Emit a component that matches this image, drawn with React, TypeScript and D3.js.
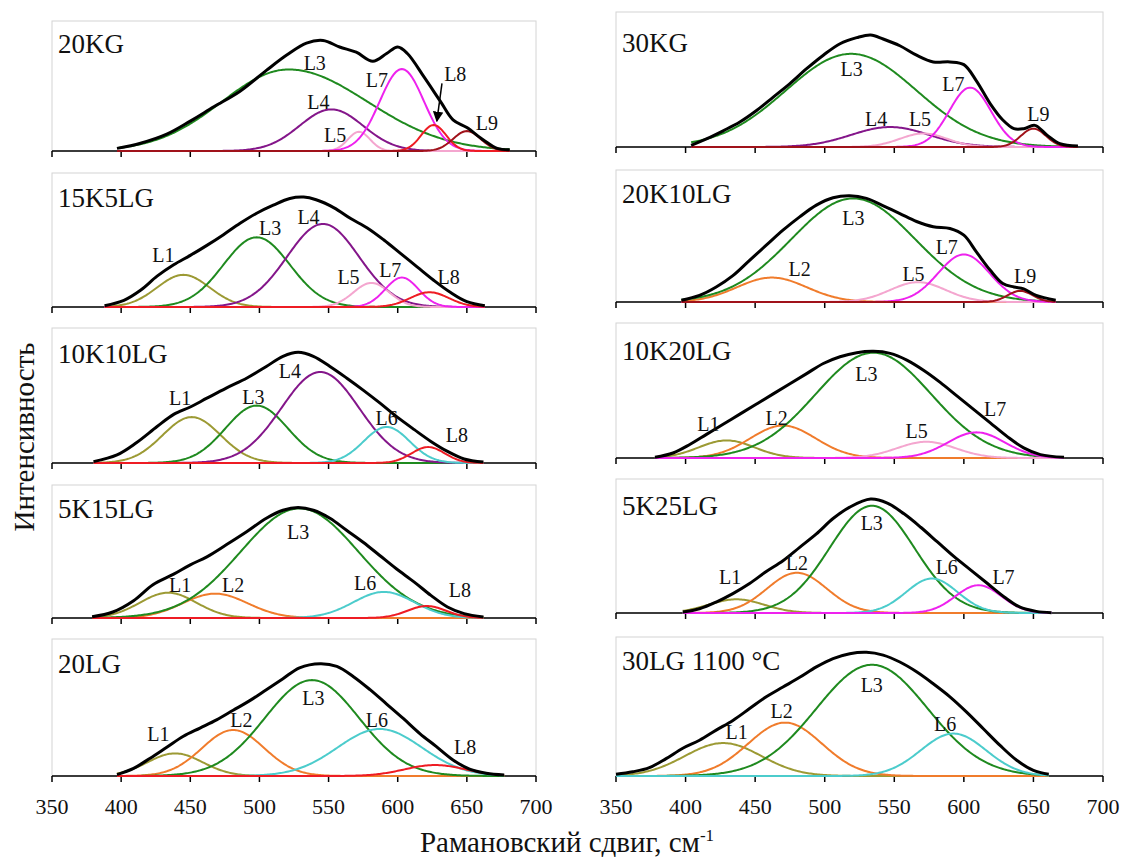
import React from "react";
import * as d3 from "d3";

// ---------- data ----------
const tickValues = [350, 400, 450, 500, 550, 600, 650, 700];
const xTitle = "Рамановский сдвиг, см";
const yTitle = "Интенсивность";

// panel names (left column then right column)
const panelNames = ["20KG", "15K5LG", "10K10LG", "5K15LG", "20LG", "30KG", "20K10LG", "10K20LG", "5K25LG", "30LG 1100 °C"];
// measured spectral range of each panel, cm-1
const spectralRanges = [[397, 681], [388, 663], [380, 662], [379, 662], [397, 677], [404, 682], [397, 666], [378, 672], [398, 663], [350, 661]];

// measured spectra (thick black line): [Raman shift, relative intensity]
const env20KG = [
  [397, 0.02], [414, 0.06], [433, 0.13], [450, 0.23], [467, 0.34], [486, 0.46], [505, 0.62], [520, 0.74],
  [534, 0.83], [546, 0.85], [558, 0.8], [570, 0.76], [582, 0.69], [592, 0.75], [600, 0.8], [607, 0.75],
  [619, 0.57], [631, 0.38], [640, 0.24], [650, 0.18], [662, 0.085], [672, 0.02], [681, 0.01],
];
const env15K5LG = [
  [388, 0.01], [402, 0.05], [414, 0.125], [426, 0.23], [438, 0.315], [450, 0.385], [462, 0.46], [474, 0.54],
  [486, 0.625], [498, 0.7], [510, 0.76], [522, 0.81], [532, 0.82], [541, 0.8], [554, 0.74], [566, 0.66],
  [578, 0.59], [590, 0.5], [602, 0.4], [614, 0.3], [626, 0.2], [638, 0.11], [650, 0.04], [663, 0.01],
];
const env10K10LG = [
  [380, 0.01], [397, 0.06], [411, 0.15], [426, 0.27], [438, 0.36], [450, 0.415], [462, 0.48], [476, 0.555],
  [491, 0.63], [505, 0.715], [517, 0.79], [528, 0.82], [539, 0.79], [551, 0.715], [563, 0.63], [575, 0.54],
  [587, 0.445], [599, 0.345], [612, 0.247], [624, 0.16], [636, 0.086], [648, 0.03], [662, 0.007],
];
const env5K15LG = [
  [379, 0.01], [394, 0.045], [409, 0.13], [423, 0.25], [438, 0.33], [450, 0.4], [462, 0.46], [476, 0.55],
  [491, 0.65], [505, 0.75], [517, 0.81], [528, 0.83], [539, 0.81], [551, 0.75], [563, 0.66], [575, 0.57],
  [587, 0.47], [599, 0.37], [612, 0.27], [624, 0.17], [636, 0.083], [648, 0.033], [662, 0.008],
];
const env20LG = [
  [397, 0.01], [409, 0.056], [421, 0.13], [433, 0.21], [445, 0.29], [457, 0.35], [469, 0.41], [481, 0.48],
  [493, 0.55], [505, 0.63], [517, 0.71], [529, 0.79], [544, 0.82], [556, 0.8], [568, 0.725], [580, 0.63],
  [592, 0.525], [604, 0.42], [616, 0.31], [628, 0.214], [640, 0.117], [652, 0.05], [664, 0.02], [677, 0.007],
];
const env30KG = [
  [404, 0.012], [415, 0.06], [427, 0.12], [439, 0.185], [451, 0.27], [463, 0.37], [475, 0.47], [487, 0.58],
  [499, 0.68], [511, 0.765], [523, 0.81], [533, 0.83], [542, 0.8], [554, 0.75], [566, 0.68], [578, 0.63],
  [590, 0.63], [600, 0.61], [609, 0.49], [619, 0.32], [628, 0.2], [636, 0.136], [643, 0.136], [651, 0.16],
  [660, 0.086], [669, 0.025], [682, 0.007],
];
const env20K10LG = [
  [397, 0.013], [410, 0.05], [422, 0.114], [434, 0.2], [446, 0.316], [458, 0.43], [470, 0.544], [482, 0.645],
  [494, 0.734], [506, 0.79], [518, 0.805], [530, 0.785], [541, 0.734], [554, 0.67], [566, 0.61], [578, 0.57],
  [590, 0.557], [600, 0.506], [609, 0.38], [619, 0.24], [628, 0.14], [636, 0.114], [643, 0.1], [652, 0.05],
  [666, 0.013],
];
const env10K20LG = [
  [378, 0.005], [391, 0.037], [403, 0.1], [415, 0.175], [427, 0.25], [439, 0.325], [451, 0.4], [463, 0.475],
  [475, 0.55], [487, 0.625], [499, 0.7], [511, 0.75], [523, 0.78], [535, 0.79], [547, 0.775], [559, 0.725],
  [571, 0.65], [583, 0.56], [595, 0.46], [607, 0.36], [619, 0.26], [631, 0.16], [643, 0.075], [655, 0.025],
  [672, 0.005],
];
const env5K25LG = [
  [398, 0.007], [410, 0.032], [422, 0.082], [434, 0.145], [446, 0.22], [458, 0.31], [470, 0.39], [482, 0.49],
  [494, 0.59], [506, 0.705], [518, 0.79], [533, 0.85], [545, 0.82], [557, 0.74], [569, 0.64], [581, 0.53],
  [593, 0.42], [605, 0.32], [617, 0.22], [629, 0.12], [640, 0.045], [652, 0.012], [663, 0.002],
];
const env30LG = [
  [350, 0.012], [362, 0.03], [374, 0.06], [386, 0.125], [398, 0.2], [410, 0.257], [422, 0.33], [434, 0.4],
  [446, 0.485], [458, 0.57], [470, 0.64], [482, 0.71], [494, 0.785], [506, 0.845], [518, 0.88], [530, 0.89],
  [542, 0.87], [554, 0.82], [566, 0.75], [578, 0.664], [590, 0.57], [602, 0.46], [614, 0.34], [626, 0.22],
  [638, 0.113], [650, 0.04], [661, 0.012],
];

// Gaussian components: id, centre (cm-1), height (rel.), sigma (cm-1); sl = left-side sigma when asymmetric
const peaks20KG = [
  { id: "L3", c: 521, h: 0.627, s: 57, sl: 48 },
  { id: "L4", c: 552, h: 0.32, s: 23 },
  { id: "L5", c: 572, h: 0.148, s: 8 },
  { id: "L7", c: 603, h: 0.63, s: 16 },
  { id: "L8", c: 626, h: 0.2, s: 9 },
  { id: "L9", c: 650, h: 0.153, s: 10 },
];
const peaks15K5LG = [
  { id: "L1", c: 445, h: 0.24, s: 19 },
  { id: "L3", c: 498, h: 0.52, s: 24 },
  { id: "L4", c: 546, h: 0.62, s: 26 },
  { id: "L5", c: 581, h: 0.18, s: 13 },
  { id: "L7", c: 603, h: 0.22, s: 12 },
  { id: "L8", c: 623, h: 0.11, s: 14 },
];
const peaks10K10LG = [
  { id: "L1", c: 451, h: 0.34, s: 21 },
  { id: "L3", c: 498, h: 0.425, s: 22.5 },
  { id: "L4", c: 544, h: 0.674, s: 28 },
  { id: "L6", c: 592, h: 0.267, s: 16.5 },
  { id: "L8", c: 622, h: 0.118, s: 12 },
];
const peaks5K15LG = [
  { id: "L1", c: 434, h: 0.19, s: 20.5 },
  { id: "L2", c: 468, h: 0.183, s: 23.5 },
  { id: "L3", c: 529, h: 0.824, s: 42.5 },
  { id: "L6", c: 590, h: 0.196, s: 22 },
  { id: "L8", c: 621, h: 0.09, s: 14 },
];
const peaks20LG = [
  { id: "L1", c: 439, h: 0.165, s: 20 },
  { id: "L2", c: 481, h: 0.336, s: 22.5 },
  { id: "L3", c: 538, h: 0.7, s: 34 },
  { id: "L6", c: 587, h: 0.343, s: 30.5 },
  { id: "L8", c: 627, h: 0.08, s: 22 },
];
const peaks30KG = [
  { id: "L3", c: 519, h: 0.69, s: 47 },
  { id: "L4", c: 547, h: 0.148, s: 28 },
  { id: "L5", c: 571, h: 0.1, s: 17 },
  { id: "L7", c: 604.5, h: 0.44, s: 15 },
  { id: "L9", c: 650, h: 0.136, s: 9 },
];
const peaks20K10LG = [
  { id: "L2", c: 462, h: 0.185, s: 25 },
  { id: "L3", c: 520.5, h: 0.785, s: 44.5 },
  { id: "L5", c: 567, h: 0.15, s: 20 },
  { id: "L7", c: 600, h: 0.36, s: 18.5 },
  { id: "L9", c: 640.5, h: 0.084, s: 9 },
];
const peaks10K20LG = [
  { id: "L1", c: 429.5, h: 0.13, s: 20 },
  { id: "L2", c: 470, h: 0.24, s: 23.5 },
  { id: "L3", c: 535, h: 0.78, s: 41.5 },
  { id: "L5", c: 573, h: 0.12, s: 21 },
  { id: "L7", c: 609, h: 0.19, s: 20.5 },
];
const peaks5K25LG = [
  { id: "L1", c: 436.5, h: 0.102, s: 20 },
  { id: "L2", c: 480, h: 0.3, s: 21.5 },
  { id: "L3", c: 534, h: 0.8, s: 30.5 },
  { id: "L6", c: 577, h: 0.257, s: 18.5 },
  { id: "L7", c: 610.5, h: 0.207, s: 16.5 },
];
const peaks30LG = [
  { id: "L1", c: 427, h: 0.237, s: 27.5 },
  { id: "L2", c: 471.5, h: 0.384, s: 26.5 },
  { id: "L3", c: 534, h: 0.8, s: 40 },
  { id: "L6", c: 592.5, h: 0.305, s: 23.5 },
];

// peak label anchors: id, Raman shift, relative intensity
const labels20KG = [
  { id: "L3", x: 540, y: 0.678 }, { id: "L4", x: 542.7, y: 0.378 }, { id: "L5", x: 554.8, y: 0.123 },
  { id: "L7", x: 585, y: 0.545 }, { id: "L8", x: 641.6, y: 0.596 }, { id: "L9", x: 664.5, y: 0.217 },
];
const labels15K5LG = [
  { id: "L1", x: 430.6, y: 0.39 }, { id: "L3", x: 507.7, y: 0.59 }, { id: "L4", x: 535.5, y: 0.675 },
  { id: "L5", x: 564.4, y: 0.225 }, { id: "L7", x: 594.6, y: 0.275 }, { id: "L8", x: 636.8, y: 0.225 },
];
const labels10K10LG = [
  { id: "L1", x: 442.6, y: 0.48 }, { id: "L3", x: 495.7, y: 0.49 }, { id: "L4", x: 522, y: 0.68 },
  { id: "L6", x: 592, y: 0.333 }, { id: "L8", x: 642.8, y: 0.21 },
];
const labels5K15LG = [
  { id: "L1", x: 442.6, y: 0.246 }, { id: "L2", x: 481, y: 0.246 }, { id: "L3", x: 528, y: 0.648 },
  { id: "L6", x: 576.5, y: 0.26 }, { id: "L8", x: 645, y: 0.21 },
];
const labels20LG = [
  { id: "L1", x: 427, y: 0.31 }, { id: "L2", x: 487, y: 0.41 }, { id: "L3", x: 539, y: 0.567 },
  { id: "L6", x: 585, y: 0.41 }, { id: "L8", x: 648.8, y: 0.214 },
];
const labels30KG = [
  { id: "L3", x: 519.4, y: 0.58 }, { id: "L4", x: 537, y: 0.21 }, { id: "L5", x: 568.5, y: 0.21 },
  { id: "L7", x: 592.5, y: 0.47 }, { id: "L9", x: 653.6, y: 0.247 },
];
const labels20K10LG = [
  { id: "L2", x: 482, y: 0.253 }, { id: "L3", x: 520.6, y: 0.633 }, { id: "L5", x: 563.8, y: 0.215 },
  { id: "L7", x: 587.7, y: 0.418 }, { id: "L9", x: 644, y: 0.2 },
];
const labels10K20LG = [
  { id: "L1", x: 416.4, y: 0.25 }, { id: "L2", x: 465.5, y: 0.3 }, { id: "L3", x: 530, y: 0.625 },
  { id: "L5", x: 566, y: 0.2 }, { id: "L7", x: 622.5, y: 0.36 },
];
const labels5K25LG = [
  { id: "L1", x: 432, y: 0.27 }, { id: "L2", x: 480, y: 0.37 }, { id: "L3", x: 533.8, y: 0.67 },
  { id: "L6", x: 587.7, y: 0.344 }, { id: "L7", x: 628.5, y: 0.27 },
];
const labels30LG = [
  { id: "L1", x: 436.7, y: 0.316 }, { id: "L2", x: 469, y: 0.47 }, { id: "L3", x: 533.8, y: 0.652 },
  { id: "L6", x: 586.5, y: 0.376 },
];
// arrow pointing to L8 in 20KG: [from, to] in (shift, intensity)
const arrow20KG = [[632, 0.52], [628.3, 0.23]];

const panelEnvelopes = [env20KG, env15K5LG, env10K10LG, env5K15LG, env20LG, env30KG, env20K10LG, env10K20LG, env5K25LG, env30LG];
const panelPeaks = [peaks20KG, peaks15K5LG, peaks10K10LG, peaks5K15LG, peaks20LG, peaks30KG, peaks20K10LG, peaks10K20LG, peaks5K25LG, peaks30LG];
const panelLabels = [labels20KG, labels15K5LG, labels10K10LG, labels5K15LG, labels20LG, labels30KG, labels20K10LG, labels10K20LG, labels5K25LG, labels30LG];

// ---------- styles / layout ----------
const peakColors: Record<string, string> = {
  L1: "#9c9a34",
  L2: "#f07c2c",
  L3: "#1f8a1f",
  L4: "#84168a",
  L5: "#f4a6cf",
  L6: "#4ccccc",
  L7: "#ee22ee",
  L8: "#ee1c24",
  L9: "#a0121a",
};
const FONT = "'Liberation Serif', 'Times New Roman', serif";
const colX = [[52, 536], [616, 1103]];
const rowTops = [[21, 173, 328, 485, 639], [12, 170, 323, 479, 637]];
const rowBottoms = [[151, 307, 463, 618, 776], [147, 302, 458, 613, 776]];
const nameBaselines = [[53, 207, 363, 518, 673], [52, 203, 360, 515, 670]];

type Peak = { id: string; c: number; h: number; s: number; sl?: number };
const gauss = (p: Peak, x: number) => {
  const s = x < p.c && p.sl ? p.sl : p.s;
  return p.h * Math.exp(-((x - p.c) ** 2) / (2 * s * s));
};

function Panel({ idx }: { idx: number }) {
  const col = idx < 5 ? 0 : 1;
  const row = idx % 5;
  const [x0, x1] = colX[col];
  const top = rowTops[col][row];
  const bottom = rowBottoms[col][row];
  const xs = d3.scaleLinear().domain([350, 700]).range([x0, x1]);
  const ys = d3.scaleLinear().domain([0, 1]).range([bottom, top]);
  const peaks: Peak[] = panelPeaks[idx];
  const [r0, r1] = spectralRanges[idx];
  const grid = d3.range(r0, r1 + 0.001, 1);
  const line = d3
    .line<number[]>()
    .x((d) => xs(d[0]))
    .y((d) => ys(d[1]));
  const envLine = d3
    .line<number[]>()
    .x((d) => xs(d[0]))
    .y((d) => ys(d[1]))
    .curve(d3.curveCatmullRom.alpha(0.5));
  const isBottom = row === 4;
  return (
    <g>
      <rect x={x0} y={top} width={x1 - x0} height={bottom - top} fill="none" stroke="#d4d4d4" strokeWidth={1} />
      <line x1={x0} x2={x1} y1={bottom} y2={bottom} stroke="#000" strokeWidth={1.5} />
      {tickValues.map((t) => (
        <line key={t} x1={xs(t)} x2={xs(t)} y1={bottom} y2={bottom + 6} stroke="#000" strokeWidth={1.5} />
      ))}
      {peaks.map((p) => (
        <path
          key={p.id}
          d={line(grid.map((x) => [x, gauss(p, x)])) || ""}
          fill="none"
          stroke={peakColors[p.id]}
          strokeWidth={2}
        />
      ))}
      <path d={envLine(panelEnvelopes[idx]) || ""} fill="none" stroke="#000" strokeWidth={3} strokeLinejoin="round" />
      {panelLabels[idx].map((l) => (
        <text
          key={l.id}
          x={xs(l.x)}
          y={ys(l.y)}
          textAnchor="middle"
          dominantBaseline="central"
          fontFamily={FONT}
          fontSize={20}
          fill="#111"
        >
          {l.id}
        </text>
      ))}
      {idx === 0 && (
        <line
          x1={xs(arrow20KG[0][0])}
          y1={ys(arrow20KG[0][1])}
          x2={xs(arrow20KG[1][0])}
          y2={ys(arrow20KG[1][1])}
          stroke="#000"
          strokeWidth={1.5}
          markerEnd="url(#arrowHead)"
        />
      )}
      <text x={x0 + 6} y={nameBaselines[col][row]} fontFamily={FONT} fontSize={27} fill="#111">
        {panelNames[idx]}
      </text>
      {isBottom &&
        tickValues.map((t) => (
          <text key={t} x={xs(t)} y={814} textAnchor="middle" fontFamily={FONT} fontSize={22} fill="#111">
            {t}
          </text>
        ))}
    </g>
  );
}

export default function App() {
  return (
    <svg
      width={1128}
      height={857}
      viewBox="0 0 1128 857"
      style={{ position: "absolute", left: 0, top: 0, background: "#fff" }}
    >
      <defs>
        <marker id="arrowHead" viewBox="0 0 10 10" refX="9" refY="5" markerWidth="7" markerHeight="7" orient="auto">
          <path d="M0,0 L10,5 L0,10 z" fill="#000" />
        </marker>
      </defs>
      <rect width={1128} height={857} fill="#fff" />
      {panelNames.map((_, i) => (
        <Panel key={i} idx={i} />
      ))}
      <text x={567} y={852} textAnchor="middle" fontFamily={FONT} fontSize={29} fill="#111">
        {xTitle}
        <tspan dy={-11} fontSize={17}>-1</tspan>
      </text>
      <text
        transform="translate(34,437) rotate(-90)"
        textAnchor="middle"
        fontFamily={FONT}
        fontSize={29}
        fill="#111"
      >
        {yTitle}
      </text>
    </svg>
  );
}
